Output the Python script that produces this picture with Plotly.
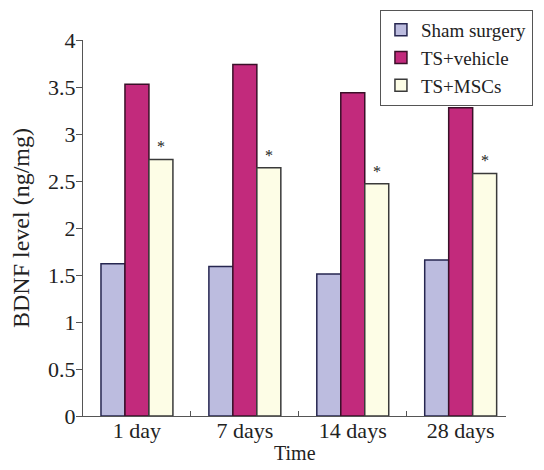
import plotly.graph_objects as go

categories = ["1 day", "7 days", "14 days", "28 days"]
sham = [1.62, 1.59, 1.51, 1.66]
ts_vehicle = [3.53, 3.74, 3.44, 3.28]
ts_mscs = [2.73, 2.64, 2.47, 2.58]
series_names = ["Sham surgery", "TS+vehicle", "TS+MSCs"]
y_ticks = [0, 0.5, 1, 1.5, 2, 2.5, 3, 3.5, 4]
y_tick_labels = ["0", "0.5", "1", "1.5", "2", "2.5", "3", "3.5", "4"]

FONT = "Liberation Serif, Times New Roman, serif"

fig = go.Figure()
fills = ["#bcbcdf", "#c22a7c", "#fdfde6"]
lines = ["#262650", "#3a1028", "#3a3a3a"]
for name, vals, fc, lc in zip(series_names, [sham, ts_vehicle, ts_mscs], fills, lines):
    fig.add_trace(go.Bar(name=name, x=categories, y=vals,
                         marker=dict(color=fc, line=dict(color=lc, width=1.5))))

for cat, v in zip(categories, ts_mscs):
    fig.add_annotation(x=cat, y=v, xref="x", yref="y", text="*", showarrow=False,
                       xshift=24, yshift=2, yanchor="bottom",
                       font=dict(family=FONT, size=16, color="#222"))

# x-axis title placed as a paper annotation so it stays inside the page
fig.add_annotation(x=0.5, y=0, xref="paper", yref="paper", text="Time", showarrow=False,
                   xanchor="center", yanchor="top", yshift=-24,
                   font=dict(family=FONT, size=20, color="#222"))

# the page body has an 8px default margin, so the figure is laid out 8px up/left
fig.update_layout(
    width=544, height=470,
    margin=dict(l=75, r=46, t=32, b=62, autoexpand=False),
    plot_bgcolor="white", paper_bgcolor="white",
    barmode="group", bargap=1/3, bargroupgap=0,
    font=dict(family=FONT, size=22, color="#222"),
    showlegend=True,
    legend=dict(x=0.702, y=1.08, xanchor="left", yanchor="top",
                bordercolor="#555", borderwidth=1, bgcolor="white",
                font=dict(family=FONT, size=19, color="#222"),
                itemwidth=30, tracegroupgap=0),
    xaxis=dict(range=[-0.5, 3.42], showline=True, linecolor="#555", linewidth=1.2,
               ticks="inside", tickson="boundaries", ticklen=5, tickcolor="#555",
               showgrid=False, zeroline=False, ticklabelstandoff=-6,
               tickfont=dict(size=22)),
    yaxis=dict(range=[0, 4], tickvals=y_ticks, ticktext=y_tick_labels,
               showline=True, linecolor="#555", linewidth=1.2,
               ticks="outside", ticklen=6, tickcolor="#555",
               showgrid=False, zeroline=False, ticklabelstandoff=-4,
               title=dict(text="BDNF level (ng/mg)", font=dict(size=24), standoff=16),
               tickfont=dict(size=22)),
)

fig.write_html("out.html")
